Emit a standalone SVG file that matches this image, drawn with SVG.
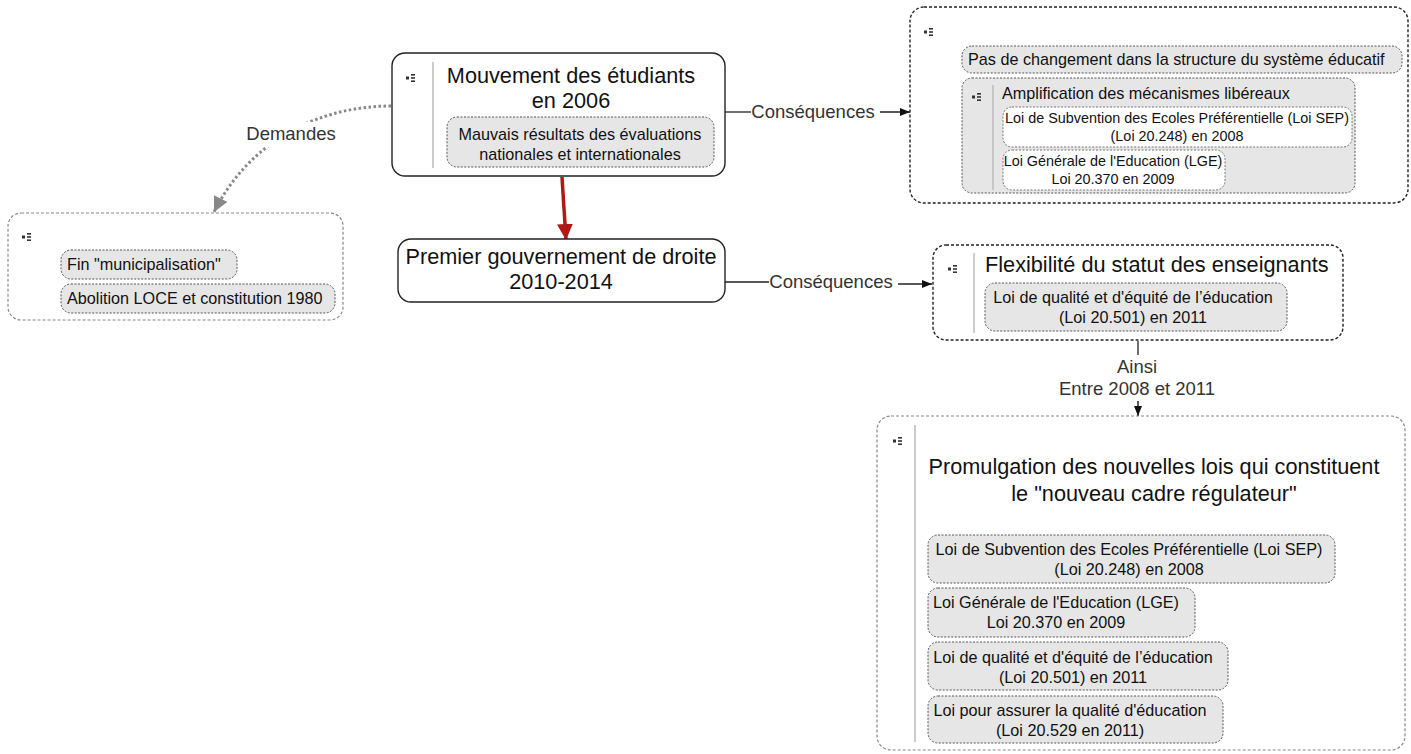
<svg xmlns="http://www.w3.org/2000/svg" width="1411" height="754" viewBox="0 0 1411 754">
<defs>
<style>
text{font-family:"Liberation Sans",Arial,sans-serif;fill:#111}
.tt{font-size:21.7px}
.ts{font-size:16.2px}
.tw{font-size:14.4px}
.lbl{font-size:18.5px;fill:#333}
.solid{fill:#fff;stroke:#222;stroke-width:1.4}
.dashB{fill:#fff;stroke:#222;stroke-width:1.4;stroke-dasharray:3 2}
.dashG{fill:#fff;stroke:#888;stroke-width:1.2;stroke-dasharray:3 2}
.pill{fill:#e6e6e6;stroke:#555;stroke-width:1;stroke-dasharray:2 1.5}
.pillW{fill:#fff;stroke:#777;stroke-width:1;stroke-dasharray:2 1.5}
.sep{stroke:#bbb;stroke-width:1.5}
.ico{fill:#333}
</style>
<g id="icon"><rect x="0" y="-1.5" width="3" height="3" class="ico"/><rect x="5" y="-4" width="4" height="1.6" class="ico"/><rect x="5" y="-0.8" width="4" height="1.6" class="ico"/><rect x="5" y="2.4" width="4" height="1.6" class="ico"/></g>
<marker id="ab" viewBox="0 0 10 10" refX="10" refY="5" markerWidth="11" markerHeight="10" markerUnits="userSpaceOnUse" orient="auto"><path d="M0,1 L10,5 L0,9 z" fill="#111"/></marker>
<marker id="ag" viewBox="0 0 10 10" refX="10" refY="5" markerWidth="15" markerHeight="15" markerUnits="userSpaceOnUse" orient="auto"><path d="M0,0 L10,5 L0,10 z" fill="#888"/></marker>
<marker id="ar" viewBox="0 0 10 10" refX="10" refY="5" markerWidth="16" markerHeight="16" markerUnits="userSpaceOnUse" orient="auto"><path d="M0,0 L10,5 L0,10 z" fill="#b01818"/></marker>
</defs>
<rect width="1411" height="754" fill="#fff"/>

<g id="connectors">
<path d="M391,106 C320,106 250,140 214,212" fill="none" stroke="#888" stroke-width="3" stroke-dasharray="2.5 2.5" marker-end="url(#ag)"/>
<rect x="245" y="122" width="93" height="25" fill="#fff"/>
<text class="lbl" x="291" y="140" text-anchor="middle">Demandes</text>
<line x1="562" y1="177" x2="566" y2="240" stroke="#b01818" stroke-width="3.5" marker-end="url(#ar)"/>
<line x1="725" y1="112" x2="751" y2="112" stroke="#222" stroke-width="1.3"/>
<text class="lbl" x="813" y="118" text-anchor="middle">Conséquences</text>
<line x1="880" y1="112" x2="910" y2="112" stroke="#222" stroke-width="1.5" marker-end="url(#ab)"/>
<line x1="725" y1="282" x2="769" y2="282" stroke="#222" stroke-width="1.3"/>
<text class="lbl" x="831" y="288" text-anchor="middle">Conséquences</text>
<line x1="898" y1="284" x2="932" y2="284" stroke="#222" stroke-width="1.5" marker-end="url(#ab)"/>
<line x1="1138" y1="341" x2="1138" y2="355" stroke="#222" stroke-width="1.3"/>
<text class="lbl" x="1137" y="373" text-anchor="middle">Ainsi</text>
<text class="lbl" x="1137" y="395" text-anchor="middle">Entre 2008 et 2011</text>
<line x1="1138" y1="401" x2="1138" y2="416" stroke="#222" stroke-width="1.5" marker-end="url(#ab)"/>
</g>

<g id="n-mouvement">
<rect x="392" y="53" width="333" height="123" rx="13" class="solid"/>
<use href="#icon" x="406" y="78"/>
<line x1="433" y1="62" x2="433" y2="168" class="sep"/>
<text class="tt" x="571" y="83" text-anchor="middle">Mouvement des étudiants</text>
<text class="tt" x="571" y="108" text-anchor="middle">en 2006</text>
<rect x="447" y="117" width="267" height="50" rx="10" class="pill"/>
<text class="ts" x="580" y="140" text-anchor="middle">Mauvais résultats des évaluations</text>
<text class="ts" x="580" y="160" text-anchor="middle">nationales et internationales</text>
</g>

<g id="n-demandes">
<rect x="8" y="213" width="335" height="107" rx="13" class="dashG"/>
<use href="#icon" x="22" y="237"/>
<rect x="61" y="250" width="176" height="29" rx="10" class="pill"/>
<text class="ts" x="67" y="270">Fin "municipalisation"</text>
<rect x="61" y="284" width="274" height="29" rx="10" class="pill"/>
<text class="ts" x="67" y="304">Abolition LOCE et constitution 1980</text>
</g>

<g id="n-premier">
<rect x="398" y="239" width="327" height="63" rx="13" class="solid"/>
<text class="tt" x="561" y="264" text-anchor="middle">Premier gouvernement de droite</text>
<text class="tt" x="561" y="289" text-anchor="middle">2010-2014</text>
</g>

<g id="n-consequences1">
<rect x="910" y="7" width="498" height="196" rx="14" class="dashB"/>
<use href="#icon" x="924" y="32"/>
<rect x="962" y="46" width="440" height="27" rx="10" class="pill"/>
<text class="ts" x="968" y="65">Pas de changement dans la structure du système éducatif</text>
<rect x="962" y="78" width="393" height="115" rx="10" class="pill"/>
<use href="#icon" x="972" y="97"/>
<line x1="993" y1="85" x2="993" y2="190" class="sep"/>
<text class="ts" x="1002" y="99">Amplification des mécanismes libéreaux</text>
<rect x="1003" y="107" width="349" height="40" rx="9" class="pillW"/>
<text class="tw" x="1177" y="123" text-anchor="middle">Loi de Subvention des Ecoles Préférentielle (Loi SEP)</text>
<text class="tw" x="1177" y="141" text-anchor="middle">(Loi 20.248) en 2008</text>
<rect x="1003" y="150" width="222" height="40" rx="9" class="pillW"/>
<text class="tw" x="1113" y="166" text-anchor="middle">Loi Générale de l'Education (LGE)</text>
<text class="tw" x="1113" y="184" text-anchor="middle">Loi 20.370 en 2009</text>
</g>

<g id="n-flexibilite">
<rect x="933" y="245" width="410" height="95" rx="13" class="dashB"/>
<use href="#icon" x="948" y="269"/>
<line x1="974" y1="253" x2="974" y2="333" class="sep"/>
<text class="tt" x="985" y="272">Flexibilité du statut des enseignants</text>
<rect x="985" y="283" width="302" height="48" rx="10" class="pill"/>
<text class="ts" x="1133" y="303" text-anchor="middle">Loi de qualité et d'équité de l’éducation</text>
<text class="ts" x="1133" y="323" text-anchor="middle">(Loi 20.501) en 2011</text>
</g>

<g id="n-promulgation">
<rect x="877" y="416" width="528" height="334" rx="14" class="dashG"/>
<use href="#icon" x="893" y="441"/>
<line x1="915" y1="425" x2="915" y2="742" class="sep"/>
<text class="tt" x="1154" y="474" text-anchor="middle">Promulgation des nouvelles lois qui constituent</text>
<text class="tt" x="1154" y="501" text-anchor="middle">le "nouveau cadre régulateur"</text>
<rect x="928" y="535" width="407" height="48" rx="10" class="pill"/>
<text class="ts" x="1129" y="555" text-anchor="middle">Loi de Subvention des Ecoles Préférentielle (Loi SEP)</text>
<text class="ts" x="1129" y="575" text-anchor="middle">(Loi 20.248) en 2008</text>
<rect x="928" y="588" width="267" height="49" rx="10" class="pill"/>
<text class="ts" x="1056" y="608" text-anchor="middle">Loi Générale de l'Education (LGE)</text>
<text class="ts" x="1056" y="628" text-anchor="middle">Loi 20.370 en 2009</text>
<rect x="928" y="642" width="300" height="48" rx="10" class="pill"/>
<text class="ts" x="1073" y="663" text-anchor="middle">Loi de qualité et d'équité de l’éducation</text>
<text class="ts" x="1073" y="683" text-anchor="middle">(Loi 20.501) en 2011</text>
<rect x="928" y="696" width="295" height="47" rx="10" class="pill"/>
<text class="ts" x="1070" y="716" text-anchor="middle">Loi pour assurer la qualité d'éducation</text>
<text class="ts" x="1070" y="736" text-anchor="middle">(Loi 20.529 en 2011)</text>
</g>
</svg>
